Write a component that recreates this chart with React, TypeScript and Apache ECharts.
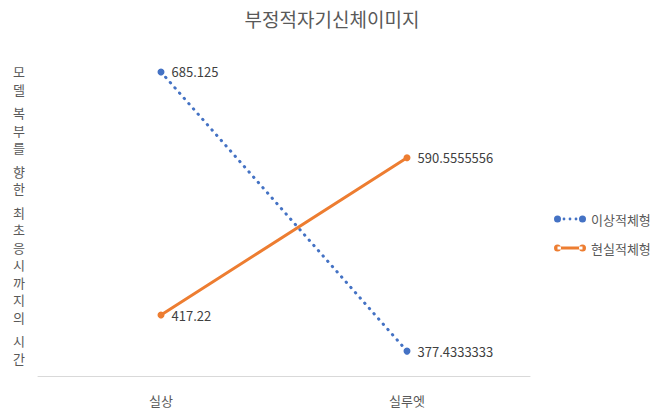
import React, { useEffect, useRef } from "react";
import * as echarts from "echarts";

const title = "부정적자기신체이미지";
const yAxisTitle = "모델 복부를 향한 최초응시까지의 시간";
const categories = ["실상", "실루엣"];
const seriesNames = ["이상적체형", "현실적체형"];
const idealValues = [685.125, 377.4333333];
const realValues = [417.22, 590.5555556];

const FONT = "'Noto Sans CJK KR', 'Noto Sans', sans-serif";

function circle(cx: number, cy: number, r: number) {
  return `M${cx - r} ${cy}A${r} ${r} 0 1 0 ${cx + r} ${cy}A${r} ${r} 0 1 0 ${cx - r} ${cy}Z`;
}
const blueIcon =
  "path://" +
  circle(3.5, 3.5, 3.5) +
  circle(10, 3.5, 1.4) +
  circle(16, 3.5, 1.4) +
  circle(22, 3.5, 1.4) +
  circle(28.5, 3.5, 3.5);
const orangeIcon =
  "path://" + circle(3.5, 3.5, 3.5) + "M3.5 2H28.5V5H3.5Z" + circle(28.5, 3.5, 3.5);

export default function App() {
  const ref = useRef<HTMLDivElement>(null);
  useEffect(() => {
    if (!ref.current) return;
    const chart = echarts.init(ref.current, null, { renderer: "svg" });
    const yText = yAxisTitle
      .split("")
      .map((ch) => (ch === " " ? "{s| }" : `{c|${ch}}`))
      .join("\n");
    const labelCfg = {
      show: true,
      position: "right" as const,
      distance: 7,
      fontSize: 13,
      color: "#404040",
      fontFamily: FONT,
      formatter: (p: any) => String(p.value),
    };
    chart.setOption({
      animation: false,
      backgroundColor: "#ffffff",
      title: {
        text: title,
        left: "center",
        top: 4,
        textStyle: { fontSize: 19, fontWeight: "normal", color: "#595959", fontFamily: FONT },
      },
      legend: {
        orient: "vertical",
        left: 549,
        top: 206,
        itemWidth: 32,
        itemHeight: 7,
        itemGap: 13,
        textStyle: { fontSize: 13, color: "#595959", fontFamily: FONT, lineHeight: 16 },
        data: [
          { name: seriesNames[0], icon: blueIcon },
          { name: seriesNames[1], icon: orangeIcon },
        ],
      },
      graphic: [
        {
          type: "text",
          left: 13,
          top: 65,
          style: {
            text: yText,
            fill: "#595959",
            fontFamily: FONT,
            rich: {
              c: { fontSize: 13, lineHeight: 17.5, fill: "#595959", fontFamily: FONT },
              s: { fontSize: 6, lineHeight: 6 },
            },
          },
        },
      ],
      grid: { left: 38, right: 134, top: 58.5, bottom: 38 },
      xAxis: {
        type: "category",
        data: categories,
        boundaryGap: true,
        axisLine: { lineStyle: { color: "#D9D9D9", width: 1 } },
        axisTick: { show: false },
        axisLabel: { fontSize: 13, color: "#595959", fontFamily: FONT, margin: 18 },
      },
      yAxis: {
        type: "value",
        min: 350,
        max: 700,
        interval: 50,
        show: false,
        splitLine: { show: false },
      },
      series: [
        {
          name: seriesNames[0],
          type: "line",
          data: idealValues,
          symbol: "circle",
          symbolSize: 7,
          color: "#4472C4",
          lineStyle: { color: "#4472C4", width: 3, type: [0.5, 6.5], cap: "round" },
          itemStyle: { color: "#4472C4" },
          label: labelCfg,
        },
        {
          name: seriesNames[1],
          type: "line",
          data: realValues,
          symbol: "circle",
          symbolSize: 7,
          color: "#ED7D31",
          lineStyle: { color: "#ED7D31", width: 3, type: "solid", cap: "round" },
          itemStyle: { color: "#ED7D31" },
          label: labelCfg,
        },
      ],
    });
    return () => chart.dispose();
  }, []);
  return (
    <div
      ref={ref}
      style={{ position: "fixed", left: 0, top: 0, width: 664, height: 414 }}
    />
  );
}
